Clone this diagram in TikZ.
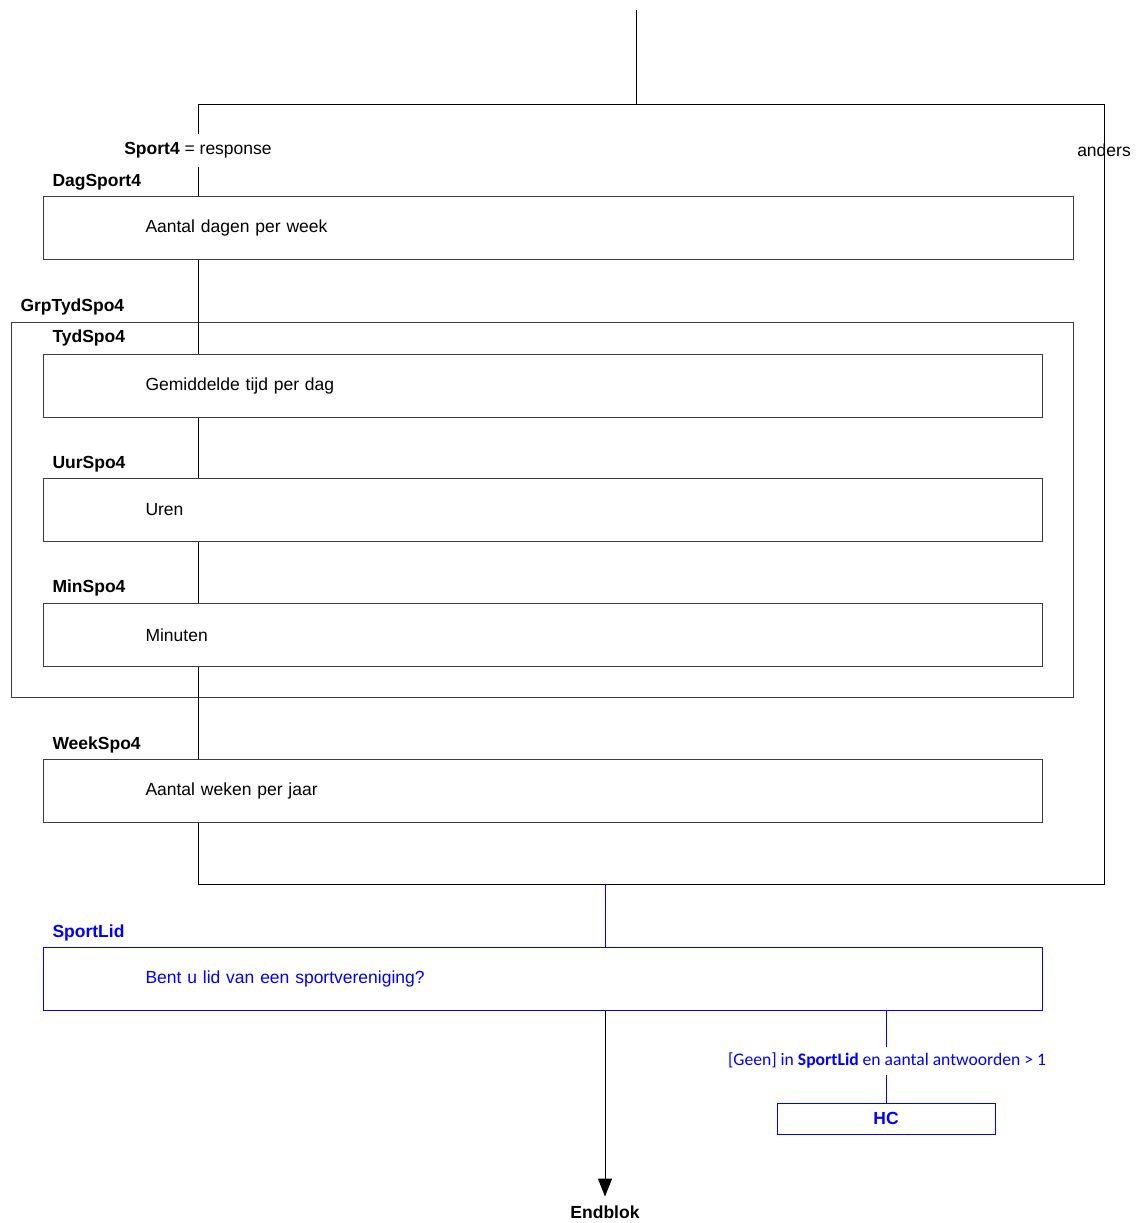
\documentclass[tikz,border=0pt]{standalone}
\usepackage{fontspec}
\setmainfont{Liberation Sans}
\newfontfamily\calibrifont{Carlito}
\usepackage{xcolor}
\usetikzlibrary{arrows.meta}

\definecolor{qblue}{RGB}{0,0,255}
\definecolor{qgray}{RGB}{60,60,60}

\begin{document}
\begin{tikzpicture}[x=1pt, y=-1pt, line width=1pt,
    every node/.style={font=\fontsize{17.5}{21}\selectfont},
    widebox/.style={draw=qgray, anchor=north west, minimum height=63, inner xsep=102, text width=826, align=left},
    qbox/.style={draw=qgray, anchor=north west, minimum height=63, inner xsep=102, text width=795, align=left},
    qname/.style={anchor=west, inner sep=0, font=\fontsize{17.5}{21}\selectfont\bfseries},
    cond/.style={inner sep=0, minimum height=32}]
    \useasboundingbox (0,0) rectangle (1138,1223);

    % fork points of the Sport4 condition
    \coordinate (top) at (636,10);
    \coordinate (fork) at (636,104);
    \coordinate (forkL) at (198,104);
    \coordinate (forkR) at (1104,104);
    \coordinate (joinL) at (198,884);
    \coordinate (joinR) at (1104,884);
    \coordinate (join) at (605,884);

    \node [cond, fill=white] (SportCond) at (198,150.5) {\textbf{Sport4} = response};
    \node [cond] (Anders) at (1104,150) {anders};

    \node [qname] (lDagSport4) at (52,182) {DagSport4};
    \node [widebox] (DagSport4) at (43,196) {Aantal dagen per week};

    \node [qname] (lGrpTydSpo4) at (20,307) {GrpTydSpo4};
    \node [draw=qgray, anchor=north west, minimum width=1062, minimum height=375, inner sep=0] (GrpTydSpo4) at (11,322) {};
    \node [qname] (lTydSpo4) at (52,338) {TydSpo4};
    \node [qbox] (TydSpo4) at (43,354) {Gemiddelde tijd per dag};
    \node [qname] (lUurSpo4) at (52,464) {UurSpo4};
    \node [qbox] (UurSpo4) at (43,478) {Uren};
    \node [qname] (lMinSpo4) at (52,588) {MinSpo4};
    \node [qbox] (MinSpo4) at (43,603) {Minuten};

    \node [qname] (lWeekSpo4) at (52,745) {WeekSpo4};
    \node [qbox] (WeekSpo4) at (43,759) {Aantal weken per jaar};

    \node [qname, text=qblue] (lSportLid) at (52,933) {SportLid};
    \node [qbox, draw=qblue, text=qblue] (SportLid) at (43,947) {Bent u lid van een sportvereniging?};

    \node [inner sep=0, minimum height=27, text=qblue, font=\calibrifont\fontsize{17.6}{21}\selectfont] (HCCond) at (887,1060.5) {[Geen] in \textbf{SportLid} en aantal antwoorden > 1};
    \node [draw=qblue, text=qblue, minimum width=218, minimum height=31, inner sep=0, font=\fontsize{17.5}{21}\selectfont\bfseries] (HC) at (886,1118.5) {HC};

    \node [inner sep=0, minimum height=30, font=\fontsize{17.5}{21}\selectfont\bfseries] (Endblok) at (605,1212) {Endblok};

    % connectors
    \draw (top) -- (fork);
    \draw (forkL) -- (forkR) -- (joinR) -- (joinL);
    \draw (forkL) -- (SportCond.north);
    \draw (SportCond.south) -- (DagSport4.north -| forkL);
    \draw (DagSport4.south -| forkL) -- (TydSpo4.north -| forkL);
    \draw (TydSpo4.south -| forkL) -- (UurSpo4.north -| forkL);
    \draw (UurSpo4.south -| forkL) -- (MinSpo4.north -| forkL);
    \draw (MinSpo4.south -| forkL) -- (WeekSpo4.north -| forkL);
    \draw (WeekSpo4.south -| forkL) -- (joinL);
    \draw [qblue] (join) -- (SportLid.north -| join);
    \draw [-{Triangle[length=18, width=14]}] (SportLid.south -| join) -- (Endblok.north);
    \draw [qblue] (SportLid.south -| HC) -- (HCCond.north -| HC);
    \draw [qblue] (HCCond.south -| HC) -- (HC.north);
\end{tikzpicture}
\end{document}
